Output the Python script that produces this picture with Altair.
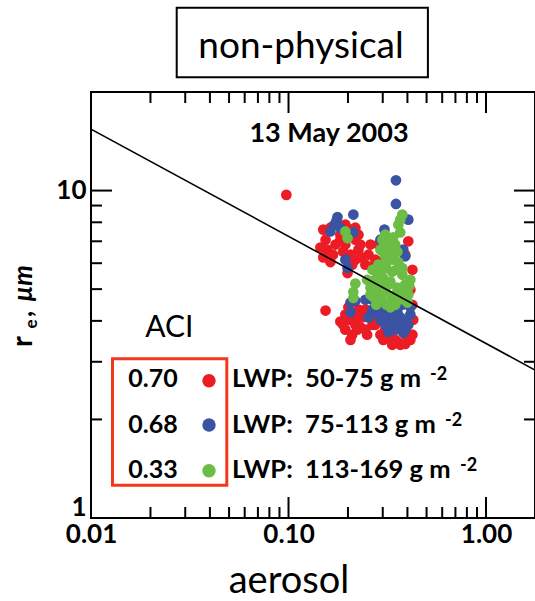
import altair as alt
import pandas as pd

# ---------------- data ----------------
RED_X = [0.0975, 0.154, 0.150, 0.154, 0.157, 0.150, 0.163, 0.183, 0.194, 0.206,
         0.218, 0.226, 0.218, 0.226, 0.194, 0.206, 0.183, 0.218, 0.199, 0.210,
         0.163, 0.194, 0.206, 0.218, 0.194, 0.210, 0.226, 0.201, 0.223, 0.236,
         0.183, 0.245, 0.266, 0.226, 0.245, 0.260, 0.275, 0.292, 0.309, 0.328,
         0.347, 0.360, 0.390, 0.400, 0.414, 0.368, 0.404, 0.390, 0.424, 0.414,
         0.424, 0.285, 0.275, 0.266, 0.292, 0.347,
         0.173, 0.168, 0.189, 0.201, 0.231, 0.234, 0.145,
         0.189, 0.206, 0.231, 0.218, 0.199,
         0.302, 0.335, 0.390, 0.424, 0.266, 0.250, 0.428,
         0.254, 0.260, 0.245, 0.295, 0.299]
RED_Y = [9.7, 4.3, 7.6, 7.08, 6.6, 6.25, 7.7, 7.33, 7.87, 7.6,
         7.7, 7.33, 7.08, 6.6, 6.84, 6.37, 7.08, 6.15, 5.6, 5.94,
         6.05, 4.18, 4.03, 3.89, 3.76, 3.63, 4.27, 4.4, 3.76, 4.1,
         3.98, 3.76, 5.85, 4.33, 4.33, 4.1, 3.89, 3.63, 3.76, 3.55,
         3.50, 3.43, 3.63, 3.89, 3.5, 3.38, 7.0, 6.37, 5.73, 4.98,
         4.48, 6.84, 6.15, 4.98, 4.18, 3.82,
         6.84, 6.37, 6.5, 6.05, 6.84, 6.25, 6.7,
         3.89, 3.5, 3.82, 4.1, 4.03,
         3.5, 3.38, 3.4, 3.63, 3.89, 3.63, 4.03,
         6.37, 6.84, 5.94, 6.6, 6.1]

BLUE_X = [0.350, 0.350, 0.213, 0.177, 0.171, 0.163, 0.213, 0.194, 0.199, 0.206,
          0.206, 0.306, 0.404, 0.381, 0.390, 0.292, 0.266, 0.285, 0.309, 0.328,
          0.347, 0.368, 0.390, 0.414, 0.320, 0.360, 0.390, 0.292, 0.275, 0.254,
          0.245, 0.339, 0.377, 0.218,
          0.302, 0.335, 0.368, 0.404, 0.347, 0.309, 0.266, 0.285, 0.414, 0.356,
          0.320, 0.381, 0.183, 0.175]
BLUE_Y = [10.75, 9.1, 8.45, 8.3, 7.87, 7.5, 7.45, 6.15, 5.8, 4.55,
          4.25, 7.6, 8.15, 6.6, 6.3, 7.08, 4.64, 4.48, 4.33, 4.18,
          4.03, 4.1, 3.98, 4.18, 3.89, 3.82, 3.76, 4.03, 4.27, 4.1,
          4.64, 4.4, 4.48, 4.6,
          4.1, 3.98, 3.89, 3.89, 3.76, 3.89, 4.33, 4.18, 4.4, 4.25,
          3.7, 3.68, 7.7, 8.1]

GREEN_X = [0.194, 0.199, 0.218, 0.213, 0.213, 0.368, 0.377, 0.360, 0.368, 0.309,
           0.328, 0.320, 0.347, 0.306, 0.335, 0.313, 0.351, 0.302, 0.328, 0.356,
           0.309, 0.335, 0.313, 0.347, 0.292, 0.285, 0.266, 0.275, 0.260, 0.285,
           0.269, 0.292, 0.377, 0.390, 0.404, 0.386, 0.368, 0.414,
           0.299, 0.339, 0.356, 0.328, 0.309, 0.360, 0.292, 0.335, 0.377, 0.320,
           0.347, 0.377, 0.299, 0.360, 0.400, 0.278, 0.328, 0.250, 0.260, 0.278,
           0.306, 0.409]
GREEN_Y = [7.5, 7.15, 5.2, 4.9, 4.7, 8.15, 8.45, 7.87, 7.45, 7.33,
           7.08, 6.7, 6.84, 6.37, 6.15, 5.8, 5.73, 5.4, 5.27, 5.05,
           4.94, 4.73, 4.48, 4.48, 6.6, 5.94, 5.73, 5.34, 5.05, 4.94,
           4.73, 5.16, 5.53, 5.16, 4.81, 4.64, 4.9, 5.34,
           7.08, 7.2, 6.5, 6.37, 6.05, 6.05, 5.65, 5.65, 5.8, 5.16,
           4.81, 4.98, 4.64, 4.64, 4.55, 4.48, 4.4, 5.34, 4.81, 5.65,
           6.77, 5.1]

FIT_X = [0.01, 1.77]
FIT_Y = [15.4, 2.83]

GROUPS = ["LWP 50-75", "LWP 75-113", "LWP 113-169"]
COLORS = ["#ec1c24", "#3a53a3", "#6cbd45"]
ACI_VALUES = ["0.70", "0.68", "0.33"]
LWP_LABELS = ["LWP:\u00a0 50-75 g m", "LWP:\u00a0 75-113 g m", "LWP:\u00a0 113-169 g m"]
SUPERSCRIPT = "-2"

X_DOMAIN = [0.01, 1.77]
Y_DOMAIN = [1, 20]
X_MAJOR = [0.01, 0.1, 1]
X_MINOR = [0.02, 0.03, 0.04, 0.05, 0.06, 0.07, 0.08, 0.09,
           0.2, 0.3, 0.4, 0.5, 0.6, 0.7, 0.8, 0.9]
Y_MAJOR = [1, 10]
Y_MINOR = [2, 3, 4, 5, 6, 7, 8, 9]

TITLE = "non-physical"
DATE = "13 May 2003"
X_TITLE = "aerosol"

# ---------------- tables ----------------
rows = []
for g, xs_, ys_ in zip(GROUPS, [RED_X, BLUE_X, GREEN_X], [RED_Y, BLUE_Y, GREEN_Y]):
    for a, b in zip(xs_, ys_):
        rows.append({"x": a, "y": b, "g": g})
pts = pd.DataFrame(rows)
fit = pd.DataFrame({"x": FIT_X, "y": FIT_Y})
dummy = pd.DataFrame({"d": [0]})
xmaj = pd.DataFrame({"x": X_MAJOR})
xmin = pd.DataFrame({"x": X_MINOR})
ymaj = pd.DataFrame({"y": Y_MAJOR})
ymin = pd.DataFrame({"y": Y_MINOR})

W, H = 444, 426
FONT = "Lato"
MAJ, MIN = 21, 11
xs = alt.Scale(type="log", domain=X_DOMAIN, nice=False)
ys = alt.Scale(type="log", domain=Y_DOMAIN, nice=False)

points = alt.Chart(pts).mark_circle(size=115, opacity=1).encode(
    x=alt.X("x:Q", scale=xs, axis=alt.Axis(
        orient="bottom", values=X_MAJOR, format=".2f", ticks=False, domain=False,
        grid=False, title=None,
        labelFont=FONT, labelFontSize=26, labelFontWeight="bold", labelColor="black",
        labelPadding=3, labelFlush=False, labelOverlap=False)),
    y=alt.Y("y:Q", scale=ys, axis=alt.Axis(
        orient="left", values=Y_MAJOR, format="d", ticks=False, domain=False,
        grid=False, title=None,
        labelFont=FONT, labelFontSize=26, labelFontWeight="bold", labelColor="black",
        labelPadding=5, labelFlush=True, labelFlushOffset=2, labelOverlap=False)),
    color=alt.Color("g:N", scale=alt.Scale(domain=GROUPS, range=COLORS), legend=None),
)

line = alt.Chart(fit).mark_line(color="black", strokeWidth=1.6, clip=True).encode(
    x=alt.X("x:Q", scale=xs, axis=None),
    y=alt.Y("y:Q", scale=ys, axis=None),
)


def xticks(df, y1, y2):
    return alt.Chart(df).mark_rule(color="black", strokeWidth=2).encode(
        x=alt.X("x:Q", scale=xs, axis=None), y=alt.value(y1), y2=alt.value(y2))


def yticks(df, x1, x2):
    return alt.Chart(df).mark_rule(color="black", strokeWidth=2).encode(
        y=alt.Y("y:Q", scale=ys, axis=None), x=alt.value(x1), x2=alt.value(x2))


ticks = [
    xticks(xmaj, H, H - MAJ), xticks(xmin, H, H - MIN),
    xticks(xmaj, 0, MAJ), xticks(xmin, 0, MIN),
    yticks(ymaj, 0, MAJ), yticks(ymin, 0, MIN),
    yticks(ymaj, W, W - MAJ), yticks(ymin, W, W - MIN),
]


def label(text, x, y, size, weight="normal", style="normal", align="left",
          angle=0, color="black"):
    return alt.Chart(dummy).mark_text(
        text=text, font=FONT, fontSize=size, fontWeight=weight, fontStyle=style,
        align=align, baseline="alphabetic", angle=angle, color=color,
    ).encode(x=alt.value(x), y=alt.value(y))


def box(x1, x2, y1, y2, color, width):
    return alt.Chart(dummy).mark_rect(filled=False, stroke=color, strokeWidth=width).encode(
        x=alt.value(x1), x2=alt.value(x2), y=alt.value(y1), y2=alt.value(y2))


annots = [
    box(85.7, 336.9, -84.3, -14.7, "black", 2),
    label(TITLE, 210, -33.7, 37, align="center"),
    label(DATE, 238, 50.3, 27, weight="bold", align="center"),
    label("ACI", 78.4, 244.7, 30, align="center"),
    box(21.5, 135.8, 266.8, 393.2, "#f2371d", 3),
    label(X_TITLE, 198, 501, 38, align="center"),
    label("r", -59.3, 255, 29, weight="bold", angle=270),
    label("e", -53.7, 236.5, 17, weight="bold", angle=270),
    label(",", -59.3, 225, 26, weight="bold", angle=270),
    label("\u00b5m", -59.3, 209.7, 26, weight="bold", style="italic", angle=270),
]
row_base = [295.3, 341.3, 386.3]
dot_y = [288.7, 333, 378.7]
sup_x = [339, 354, 369]
for i in range(3):
    annots.append(label(ACI_VALUES[i], 62, row_base[i], 25, weight="bold", align="center"))
    annots.append(alt.Chart(dummy).mark_circle(size=180, opacity=1, color=COLORS[i]).encode(
        x=alt.value(118), y=alt.value(dot_y[i])))
    annots.append(label(LWP_LABELS[i], 141, row_base[i], 25.5, weight="bold"))
    annots.append(label(SUPERSCRIPT, sup_x[i], row_base[i] - 7.3, 18, weight="bold"))

chart = alt.layer(points, line, *ticks, *annots).resolve_axis(
    x="independent", y="independent"
).properties(
    width=W, height=H,
    padding={"left": 91, "top": 92, "right": 0, "bottom": 83},
    autosize=alt.AutoSizeParams(type="none"),
    background="white",
).configure_view(stroke="black", strokeWidth=2)

chart.save("out.html", embed_options={"renderer": "svg", "actions": False})
